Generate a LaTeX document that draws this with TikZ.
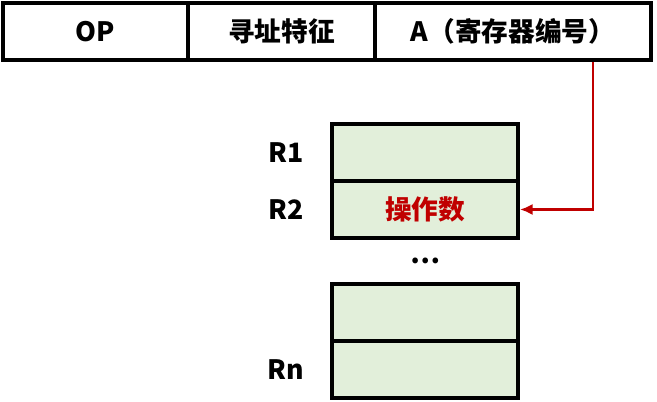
\documentclass[tikz,border=0pt]{standalone}
\usepackage{fontspec}
\setmainfont{Noto Sans CJK SC}
\usetikzlibrary{positioning,arrows.meta}
\definecolor{regfill}{HTML}{E2EFDA}
\definecolor{ptrred}{HTML}{C00000}
\newcommand\lblfont{\fontsize{20}{23}\selectfont\bfseries}
\tikzset{
	field/.style={draw, line width=3pt, minimum height=42.75pt, outer sep=0pt, inner sep=0pt, font=\lblfont},
	reg/.style={draw, fill=regfill, line width=3pt, minimum width=139.5pt, minimum height=42.75pt, outer sep=0pt, inner sep=0pt, font=\lblfont},
	lbl/.style={inner sep=0pt, font=\lblfont},
	ptr/.style={draw=ptrred, line width=2.2pt, >={Latex[length=9.5pt,width=8.5pt]}, ->}
}
\begin{document}
\begin{tikzpicture}[x=0.75pt, y=-0.75pt]
	\useasboundingbox (0,0) rectangle (657,402);
	%%Befehlswort
	\node[field, minimum width=138.75pt, anchor=north west] (op) at (3,3) {OP};
	\node[field, minimum width=140.25pt, right=0pt of op] (mode) {寻址特征};
	\node[field, minimum width=207pt, right=0pt of mode] (addr) {A（寄存器编号）};
	%%Register
	\node[reg, anchor=north west] (r1) at (332,124) {};
	\node[reg, below=0pt of r1] (r2) {\color{ptrred}操作数};
	\node[reg, anchor=north west] (r3) at (332,284) {};
	\node[reg, below=0pt of r3] (rn) {};
	%%Beschriftung
	\node[lbl, left=21pt of r1] (l1) {R1};
	\node[lbl, left=21pt of r2] (l2) {R2};
	\node[lbl, left=21pt of rn] (ln) {Rn};
	\node[lbl] (dots) at (425,261) {…};
	%%Pfeil
	\draw[ptr] ([xshift=60pt, yshift=-1.5pt]addr.south) |- ([xshift=1.5pt]r2.east);
\end{tikzpicture}
\end{document}
